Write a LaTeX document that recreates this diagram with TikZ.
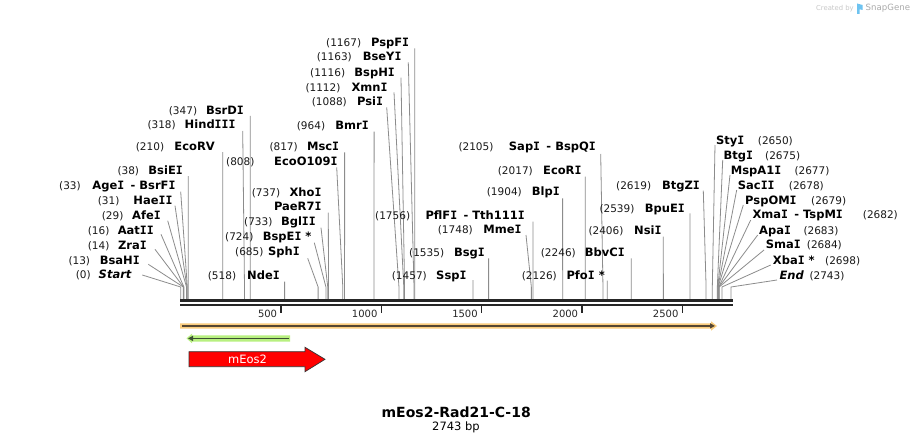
\documentclass[tikz,border=0pt]{standalone}
\usepackage{fontspec}
\setmainfont{DejaVu Sans}
\newfontfamily\serIfont{DejaVu Sans Mono}
\newcommand\serI{{\serIfont\bfseries I}}
\usetikzlibrary{arrows.meta}
\definecolor{cutgray}{RGB}{140,140,140}
\definecolor{barc}{RGB}{38,38,38}
\definecolor{orangec}{RGB}{250,204,125}
\definecolor{darkline}{RGB}{85,70,50}
\definecolor{greenc}{RGB}{184,240,128}
\definecolor{greenline}{RGB}{60,80,50}
\definecolor{logogray}{RGB}{170,170,170}
\definecolor{logolight}{RGB}{200,200,200}
\definecolor{logoblue}{RGB}{110,195,240}
\begin{document}
\begin{tikzpicture}[x=1pt,y=-1pt,
  num/.style={inner sep=0pt,font=\fontsize{10.5}{12}\selectfont,text=black!90},
  nm/.style={inner sep=0pt,font=\fontsize{11.5}{13}\selectfont\bfseries,text=black},
  cut/.style={draw=cutgray,line width=0.8pt},
  ticklabel/.style={inner sep=0pt,font=\fontsize{10}{12}\selectfont,text=barc}]
\useasboundingbox (0,0) rectangle (914,444);
\fill[white] (0,0) rectangle (914,444);

% ---------- labels left of their line ----------
\foreach \id/\nx/\ex/\y/\num/\name/\lx/\ly/\bp in {
 bsrdi/168.7/244/110/347/{BsrD\serI}/250.3/116/347,
 hindiii/147.3/235.7/124.3/318/{Hind\serI\serI\serI}/242.7/131/318,
 ecorv/135.7/215/146.7/210/EcoRV/222.8/152/210,
 bsiei/117.3/183/170/38/{BsiE\serI}/188.3/176/38,
 agei/59/175.7/185/33/{Age\serI\hspace{0.55em}- BsrF\serI}/180.7/191.7/33,
 haeii/97.7/172.7/200/31/{Hae\serI\serI}/175/205.7/31,
 afei/101.7/161/215/29/{Afe\serI}/167.7/220.7/29,
 aatii/87.7/154/230/16/{Aat\serI\serI}/161/234.3/16,
 zrai/87.7/147/245/14/{Zra\serI}/155/249.3/14,
 bsahi/68.3/140/260/13/{BsaH\serI}/148.3/264.3/13,
 start/75.7/132/274.5/0/{\textit{Start}}/142.3/275/0,
 pspfi/326/409.3/42.7/1167/{PspF\serI}/414.8/48.3/1167,
 bseyi/316.7/401.7/56.7/1163/{BseY\serI}/408.3/62.3/1163,
 bsphi/310/395/72.3/1116/{BspH\serI}/401/77.7/1116,
 xmni/305.3/387.7/87.3/1112/{Xmn\serI}/394/92.3/1112,
 psii/311.7/383.3/101.7/1088/{Psi\serI}/386.7/107.3/1088,
 bmri/296.7/369/125.7/964/{Bmr\serI}/374.1/131.7/964,
 msci/269.3/339.3/146.7/817/{Msc\serI}/344.6/152.3/817,
 ecoo/226/337.7/161/808/{EcoO109\serI}/336.7/167.3/808,
 bglii/244/316/221.7/733/{Bgl\serI\serI}/321/227.7/733,
 bspei/225/311.7/236.7/724/{BspE\serI\ *}/314.3/242.7/724,
 sphi/235/300/251.7/685/{Sph\serI}/307.7/258.3/685,
 ndei/207.7/280/275/518/{Nde\serI}/284.6/281.7/518,
 sapi/458.3/596/146.7/2105/{Sap\serI\hspace{0.55em}- BspQ\serI}/600.7/154/2105,
 ecori/497.7/581.7/170/2017/{EcoR\serI}/585.3/176.7/2017,
 blpi/486.7/560/191.7/1904/{Blp\serI}/562.6/198.3/1904,
 pflfi/375/525/215/1756/{PflF\serI\hspace{0.55em}- Tth111\serI}/532.9/221.7/1756,
 mmei/437.7/521.7/229.3/1748/{Mme\serI}/526/235/1748,
 bsgi/409/485/252.7/1535/{Bsg\serI}/488.6/258.3/1535,
 sspi/391.7/466.7/275/1457/{Ssp\serI}/473/280/1457,
 bbvci/540.7/625/252.7/2246/{BbvC\serI}/631.2/258.3/2246,
 pfoi/521.7/605/275/2126/{Pfo\serI\ *}/607.2/280.7/2126,
 nsii/588.3/661.7/230/2406/{Nsi\serI}/663.3/236.7/2406,
 bpuei/599.3/685/208.3/2539/{BpuE\serI}/690/213.3/2539,
 btgzi/616/700/185.7/2619/{BtgZ\serI}/703.3/190.7/2619}{
  \node[num,anchor=base west] (num\id) at (\nx,\y+4.2) {(\num)};
  \node[nm,anchor=base east] (nm\id) at (\ex,\y+4.2) {\name};
  \coordinate (top\id) at (\lx,\ly);
  \coordinate (kink\id) at ({180.7+0.2006*\bp},287);
  \coordinate (site\id) at ({180.7+0.2006*\bp},299);
  \draw[cut] (top\id) -- (kink\id) -- (site\id);
}

% XhoI / PaeR7I share one site
\node[num,anchor=base west] (numxhoi) at (251.7,196.5) {(737)};
\node[nm,anchor=base east] (nmxhoi) at (321.7,196.5) {Xho\serI};
\node[nm,anchor=base east] (nmpaer) at (321.7,210.9) {PaeR7\serI};
\coordinate (toppaer) at (328.3,212.7);
\coordinate (sitepaer) at ({180.7+0.2006*737},299);
\draw[cut] (toppaer) -- (sitepaer);

% ---------- labels right of their line ----------
\foreach \id/\sx/\nx/\y/\num/\name/\lx/\ly/\bp in {
 styi/716/757.7/140/2650/{Sty\serI}/715/145/2650,
 btgi/723.3/765/155/2675/{Btg\serI}/722.7/160/2675,
 mspa/730.7/794.3/170/2677/{MspA1\serI}/730/175/2677,
 sacii/737.7/788.7/185/2678/{Sac\serI\serI}/736.7/190/2678,
 pspomi/745/811/200/2679/{PspOM\serI}/743.3/205/2679,
 xmai/752.3/862.7/214.5/2682/{Xma\serI\hspace{0.55em}- TspM\serI}/750.7/220/2682,
 apai/759/803.3/230/2683/{Apa\serI}/757.7/235/2683,
 smai/765.7/806.7/244.5/2684/{Sma\serI}/764/250/2684,
 xbai/772.7/825/260/2698/{Xba\serI\ *}/770.7/265/2698,
 endl/779.3/809.3/275/2743/{\textit{End}}/777/280/2743}{
  \node[nm,anchor=base west] (nm\id) at (\sx,\y+4.2) {\name};
  \node[num,anchor=base west] (num\id) at (\nx,\y+4.2) {(\num)};
  \coordinate (top\id) at (\lx,\ly);
  \coordinate (kink\id) at ({180.7+0.2006*\bp},287);
  \coordinate (site\id) at ({180.7+0.2006*\bp},299);
  \draw[cut] (top\id) -- (kink\id) -- (site\id);
}

% ---------- backbone ----------
\coordinate (bbL) at (180,300.3);
\coordinate (bbR) at (733,300.3);
\coordinate (bbL2) at (180,304.7);
\coordinate (bbR2) at (733,304.7);
\draw[barc,line width=2.7pt] (bbL) -- (bbR);
\draw[barc,line width=2pt] (bbL2) -- (bbR2);

\foreach \t/\xx in {500/281.0,1000/381.3,1500/481.6,2000/582.0,2500/682.3}{
  \coordinate (tka\t) at (\xx,305);
  \coordinate (tkb\t) at (\xx,312.5);
  \draw[barc,line width=1.6pt] (tka\t) -- (tkb\t);
  \node[ticklabel,anchor=base east] (tl\t) at (\xx-3.7,317) {\t};
}

% ---------- features ----------
\fill[orangec] (180,323.3) -- (711,323.3) -- (711,321.3) -- (717,326) -- (711,330.7) -- (711,328.5) -- (180,328.5) -- cycle;
\coordinate (orA) at (182,325.9);
\coordinate (orB) at (715,325.9);
\draw[darkline,line width=1.4pt,-{Triangle[length=5pt,width=5pt]}] (orA) -- (orB);

\fill[greenc] (290,335.3) -- (192,335.3) -- (192,333.6) -- (186.5,338.4) -- (192,343.2) -- (192,341.5) -- (290,341.5) -- cycle;
\coordinate (grA) at (289,338.4);
\coordinate (grB) at (188,338.4);
\draw[greenline,line width=1.4pt,-{Triangle[length=5pt,width=5pt]}] (grA) -- (grB);

\filldraw[fill=red,draw=black!80,line width=0.7pt]
  (189,351.7) -- (305,351.7) -- (305,347.3) -- (325,359.3) -- (305,371.7) -- (305,366.7) -- (189,366.7) -- cycle;
\node[inner sep=0pt,font=\fontsize{11.5}{13}\selectfont,text=white] (meos) at (247.5,359.3) {mEos2};

% ---------- title ----------
\node[inner sep=0pt,font=\fontsize{14}{16}\selectfont\bfseries] (title) at (456.2,412) {mEos2-Rad21-C-18};
\node[inner sep=0pt,font=\fontsize{11.5}{13}\selectfont] (size) at (456,427.5) {2743 bp};

% ---------- logo ----------
\node[inner sep=0pt,anchor=west,font=\fontsize{6.8}{8}\selectfont,text=logolight] (createdby) at (816,8.3) {Created by};
\fill[logoblue] (857,3.5) -- (862.5,5) -- (862.5,10) -- (859.5,9.2) -- (859.5,14) -- (857,14) -- cycle;
\node[inner sep=0pt,anchor=west,font=\fontsize{8.6}{10}\selectfont,text=logogray] (snapgene) at (865.5,8.3) {SnapGene};
\end{tikzpicture}
\end{document}
